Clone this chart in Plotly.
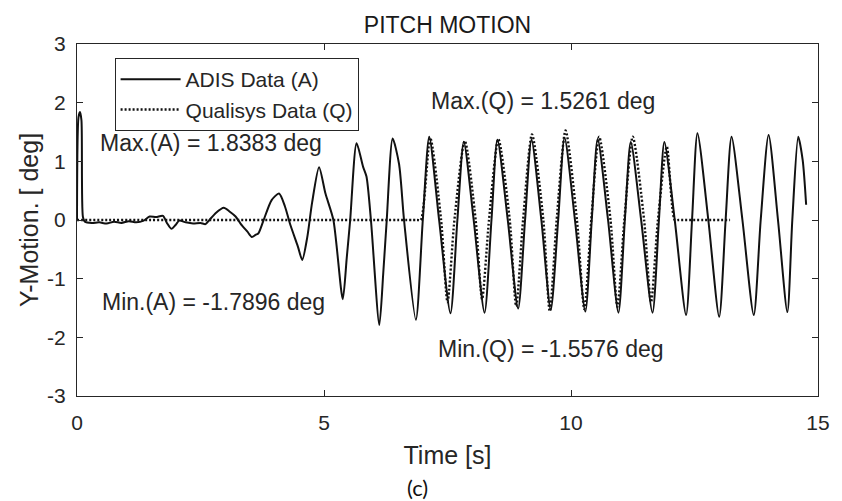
import plotly.graph_objects as go

# ---------------- data ----------------
time_a = [0.00, 0.03, 0.06, 0.09, 0.12, 0.16, 0.30, 0.45, 0.60, 0.75, 0.90, 1.05, 1.20, 1.35,
          1.47, 1.60, 1.74, 1.82, 1.91, 2.00, 2.07, 2.20, 2.35, 2.50, 2.60, 2.67, 2.81, 2.97,
          3.08, 3.21, 3.31, 3.45, 3.54, 3.62, 3.67, 3.77, 3.94, 4.09, 4.21, 4.31, 4.47, 4.56,
          4.66, 4.76, 4.90, 5.03, 5.19, 5.38, 5.46, 5.53, 5.66, 5.79, 5.86, 5.95, 6.12, 6.20,
          6.27, 6.39, 6.52, 6.62, 6.86, 7.00, 7.13, 7.33, 7.56, 7.70, 7.83, 8.03, 8.25, 8.39,
          8.51, 8.72, 8.93, 9.07, 9.20, 9.40, 9.59, 9.74, 9.87, 10.08, 10.29, 10.42, 10.54,
          10.75, 10.96, 11.09, 11.21, 11.42, 11.65, 11.78, 11.89, 12.10, 12.33, 12.45, 12.56,
          12.78, 13.00, 13.13, 13.25, 13.47, 13.70, 13.84, 14.00, 14.19, 14.38, 14.48, 14.60,
          14.69, 14.76]
pitch_a = [0.00, 1.75, 1.84, 1.70, 0.05, -0.03, -0.05, -0.04, -0.06, -0.03, -0.05, -0.02, -0.04, -0.01,
           0.06, 0.05, 0.07, -0.05, -0.15, -0.08, -0.01, -0.04, -0.06, -0.05, -0.07, -0.01, 0.12, 0.21,
           0.15, 0.06, -0.06, -0.20, -0.29, -0.25, -0.23, -0.02, 0.34, 0.45, 0.23, -0.06, -0.45, -0.68,
           -0.30, 0.30, 0.90, 0.45, 0.00, -1.35, -0.65, 0.00, 1.31, 0.91, 0.74, 0.00, -1.79, -0.90,
           0.00, 1.39, 0.95, 0.00, -1.70, 0.00, 1.42, 0.00, -1.59, 0.00, 1.33, 0.00, -1.58, 0.00,
           1.37, 0.00, -1.51, 0.00, 1.37, 0.00, -1.53, 0.00, 1.40, 0.00, -1.56, 0.00, 1.38,
           0.00, -1.58, 0.00, 1.33, 0.00, -1.58, 0.00, 1.33, 0.00, -1.62, 0.00, 1.48,
           0.00, -1.65, 0.00, 1.42, 0.00, -1.62, 0.00, 1.45, 0.00, -1.57, 0.00, 1.42,
           1.02, 0.26]

time_q = [0.00, 6.88, 6.96, 7.15, 7.37, 7.50, 7.64, 7.85, 8.07, 8.20, 8.34, 8.53, 8.76, 8.89, 9.03,
          9.21, 9.44, 9.57, 9.71, 9.89, 10.12, 10.27, 10.41, 10.57, 10.80, 10.94, 11.08, 11.25,
          11.48, 11.62, 11.76, 11.94, 12.10, 12.18, 13.22]
pitch_q = [0.00, 0.00, 0.00, 1.40, 0.00, -1.40, 0.00, 1.35, 0.00, -1.35, 0.00, 1.38, 0.00, -1.47, 0.00,
           1.46, 0.00, -1.5576, 0.00, 1.5261, 0.00, -1.52, 0.00, 1.42, 0.00, -1.48, 0.00, 1.42,
           0.00, -1.40, 0.00, 1.25, 0.00, 0.00, 0.00]

series_names = ["ADIS Data (A)", "Qualisys Data (Q)"]
x_ticks = [0, 5, 10, 15]
x_tick_labels = ["0", "5", "10", "15"]
y_ticks = [-3, -2, -1, 0, 1, 2, 3]
y_tick_labels = ["-3", "-2", "-1", "0", "1", "2", "3"]
note_texts = ["Max.(A) = 1.8383 deg", "Min.(A) = -1.7896 deg",
              "Max.(Q) = 1.5261 deg", "Min.(Q) = -1.5576 deg"]

# ---------------- figure ----------------
FONT = "Liberation Sans, Arial, sans-serif"
TXT = "#262626"

fig = go.Figure()
fig.add_trace(go.Scatter(
    x=time_a, y=pitch_a, mode="lines", name=series_names[0],
    line=dict(color="#111111", width=2, shape="spline", smoothing=0.7)))
fig.add_trace(go.Scatter(
    x=time_q, y=pitch_q, mode="lines", name=series_names[1],
    line=dict(color="#111111", width=2.4, dash="2px,2px", shape="spline", smoothing=0.7)))

axis_common = dict(
    showgrid=False, zeroline=False, showline=True, linecolor=TXT, linewidth=1.3,
    mirror="ticks", ticks="inside", ticklen=6, tickwidth=1, tickcolor=TXT,
    tickfont=dict(family=FONT, size=21, color=TXT),
)

fig.update_layout(
    width=842, height=501,
    margin=dict(l=77, r=16, t=44, b=105),
    paper_bgcolor="white", plot_bgcolor="white",
    title=dict(text="PITCH MOTION", x=0.5, xref="paper", y=1 - 25 / 501,
               yanchor="middle", xanchor="center",
               font=dict(family=FONT, size=23, color="#1a1a1a")),
    xaxis=dict(range=[0, 15], tickvals=x_ticks, ticktext=x_tick_labels, ticklabelstandoff=8,
               title=dict(text="Time [s]", standoff=13,
                          font=dict(family=FONT, size=25, color=TXT)),
               **axis_common),
    yaxis=dict(range=[-3, 3], tickvals=y_ticks, ticktext=y_tick_labels, ticklabelstandoff=6,
               title=dict(text="Y-Motion. [ deg]", standoff=1,
                          font=dict(family=FONT, size=25, color=TXT)),
               **axis_common),
    legend=dict(x=(115 - 77) / 749, y=(396 - 58) / 352, xanchor="left", yanchor="top",
                bordercolor=TXT, borderwidth=1, bgcolor="white",
                font=dict(family=FONT, size=21, color=TXT),
                itemwidth=60, tracegroupgap=0),
    showlegend=True,
)

note_pos = [(0.42, 1.31), (0.46, -1.39), (7.12, 2.02), (7.26, -2.20)]
for txt, (ax, ay) in zip(note_texts, note_pos):
    fig.add_annotation(x=ax, y=ay, xref="x", yref="y", text=txt, showarrow=False,
                       xanchor="left", yanchor="middle",
                       font=dict(family=FONT, size=23, color=TXT))

fig.add_annotation(x=(421 - 77) / 749, y=(396 - 488) / 352, xref="paper", yref="paper",
                   text="(c)", showarrow=False, xanchor="center", yanchor="middle",
                   font=dict(family="Lato, Noto Sans, sans-serif", size=22, color="#111111"))

fig.write_html("out.html")
